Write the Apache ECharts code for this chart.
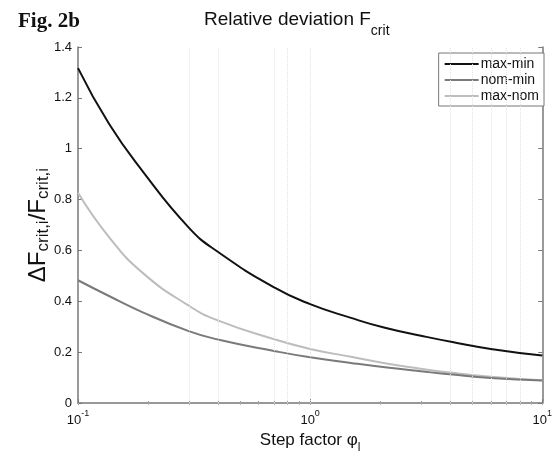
<!DOCTYPE html>
<html>
<head>
<meta charset="utf-8">
<script src="https://cdn.jsdelivr.net/npm/echarts@6/dist/echarts.min.js"></script>
<style>
  html, body { margin: 0; padding: 0; background: #fff; }
  #chart { width: 555px; height: 459px; }
</style>
</head>
<body>
<div id="chart"></div>
<script>
// step factor values (log axis)
var stepFactor = [0.1, 0.136, 0.19, 0.3, 0.4, 0.7, 1, 1.5, 2.1, 3, 4.1, 6, 10];
var maxMin = [1.317, 1.098, 0.911, 0.69, 0.595, 0.455, 0.389, 0.335, 0.296, 0.265, 0.24, 0.213, 0.187];
var nomMin = [0.483, 0.421, 0.357, 0.283, 0.25, 0.205, 0.18, 0.158, 0.141, 0.125, 0.112, 0.099, 0.089];
var maxNom = [0.827, 0.653, 0.512, 0.383, 0.325, 0.251, 0.213, 0.182, 0.157, 0.135, 0.119, 0.104, 0.09];
var seriesNames = ["max-min", "nom-min", "max-nom"];
var yTicks = [0, 0.2, 0.4, 0.6, 0.8, 1, 1.2, 1.4];
// faint vertical lines visible in the scan
var gridX = [0.3, 0.4, 0.7, 0.8, 1, 4, 5, 6, 7, 8];

function pairs(ys) {
  return stepFactor.map(function (x, i) { return [x, ys[i]]; });
}

var chart = echarts.init(document.getElementById("chart"));

var lineColors = ["#111111", "#7a7a7a", "#bdbdbd"];
var allData = [maxMin, nomMin, maxNom];

var series = allData.map(function (ys, i) {
  var s = {
    name: seriesNames[i],
    type: "line",
    data: pairs(ys),
    smooth: 0.5,
    symbol: "none",
    lineStyle: { color: lineColors[i], width: 2 },
    itemStyle: { color: lineColors[i] },
    z: 5 - i
  };
  if (i === 0) {
    s.markLine = {
      silent: true,
      symbol: "none",
      label: { show: false },
      lineStyle: { color: "#e2e2e2", type: "dotted", width: 1 },
      data: gridX.map(function (v) { return { xAxis: v }; })
    };
  }
  return s;
});

var option = {
  animation: false,
  backgroundColor: "#fff",
  title: [
    {
      text: "Fig. 2b",
      left: 13,
      top: 6,
      textStyle: { fontFamily: "Liberation Serif", fontWeight: "bold", fontSize: 21, color: "#111" }
    },
    {
      text: "{m|Relative deviation F}{s|crit}",
      left: 199,
      top: 5,
      textStyle: {
        fontWeight: "normal",
        rich: {
          m: { fontFamily: "Liberation Sans", fontWeight: "normal", fontSize: 19, color: "#111", lineHeight: 28, verticalAlign: "top" },
          s: { fontFamily: "Liberation Sans", fontWeight: "normal", fontSize: 14, color: "#111", lineHeight: 28, verticalAlign: "bottom" }
        }
      }
    }
  ],
  legend: {
    orient: "vertical",
    right: 11,
    top: 53,
    padding: [3, 5, 2, 6],
    itemGap: 0,
    itemWidth: 34,
    itemHeight: 2,
    icon: "rect",
    borderColor: "#777",
    borderWidth: 1,
    backgroundColor: "#fff",
    data: seriesNames,
    textStyle: { fontFamily: "Liberation Sans", fontSize: 14, color: "#111", lineHeight: 16, padding: [0, 0, 0, -3] }
  },
  grid: { left: 78, right: 10, top: 47, bottom: 50 },
  xAxis: [
    {
      type: "log",
      logBase: 10,
      min: 0.1,
      max: 10,
      name: "{m|Step factor φ}{s|l}",
      nameLocation: "middle",
      nameGap: 27,
      nameTextStyle: {
        rich: {
          m: { fontFamily: "Liberation Sans", fontSize: 17, color: "#111", lineHeight: 22, verticalAlign: "top" },
          s: { fontFamily: "Liberation Sans", fontSize: 12, color: "#111", lineHeight: 22, verticalAlign: "bottom" }
        }
      },
      axisLine: { show: true, lineStyle: { color: "#777", width: 1.5 } },
      axisTick: { show: true, inside: true, length: 4, lineStyle: { color: "#777" } },
      minorTick: { show: true, splitNumber: 9, length: 2, lineStyle: { color: "#999" } },
      splitLine: { show: false },
      axisLabel: {
        margin: 6,
        formatter: function (v) {
          var e = Math.round(Math.log(v) / Math.LN10);
          return "{b|10}{e|" + e + "}";
        },
        rich: {
          b: { fontFamily: "Liberation Sans", fontSize: 13, color: "#111", lineHeight: 18, verticalAlign: "bottom" },
          e: { fontFamily: "Liberation Sans", fontSize: 9, color: "#111", lineHeight: 18, verticalAlign: "top" }
        }
      }
    },
    {
      type: "log",
      logBase: 10,
      min: 0.1,
      max: 10,
      position: "top",
      axisLine: { show: false },
      axisTick: { show: true, inside: true, length: 2, lineStyle: { color: "#aaa" } },
      minorTick: { show: true, splitNumber: 9, length: 2, lineStyle: { color: "#bbb" } },
      axisLabel: { show: false },
      splitLine: { show: false }
    }
  ],
  yAxis: [
    {
      type: "value",
      min: yTicks[0],
      max: yTicks[yTicks.length - 1],
      interval: 0.2,
      name: "{m|ΔF}{s|crit,i}{m|/F}{s|crit,i}",
      nameLocation: "middle",
      nameRotate: 90,
      nameGap: 26,
      nameMoveOverlap: false,
      nameTextStyle: {
        rich: {
          m: { fontFamily: "Liberation Sans", fontSize: 24, color: "#111", lineHeight: 26, verticalAlign: "top" },
          s: { fontFamily: "Liberation Sans", fontSize: 17, color: "#111", lineHeight: 26, verticalAlign: "bottom" }
        }
      },
      axisLine: { show: true, lineStyle: { color: "#777", width: 1.5 } },
      axisTick: { show: true, inside: true, length: 4, lineStyle: { color: "#777" } },
      splitLine: { show: false },
      axisLabel: { fontFamily: "Liberation Sans", fontSize: 13, color: "#111", margin: 6 }
    },
    {
      type: "value",
      min: yTicks[0],
      max: yTicks[yTicks.length - 1],
      interval: 0.2,
      position: "right",
      axisLine: { show: true, lineStyle: { color: "#777", width: 1.5 } },
      axisTick: { show: true, inside: true, length: 4, lineStyle: { color: "#777" } },
      axisLabel: { show: false },
      splitLine: { show: false }
    }
  ],
  series: series
};

chart.setOption(option);
</script>
</body>
</html>
